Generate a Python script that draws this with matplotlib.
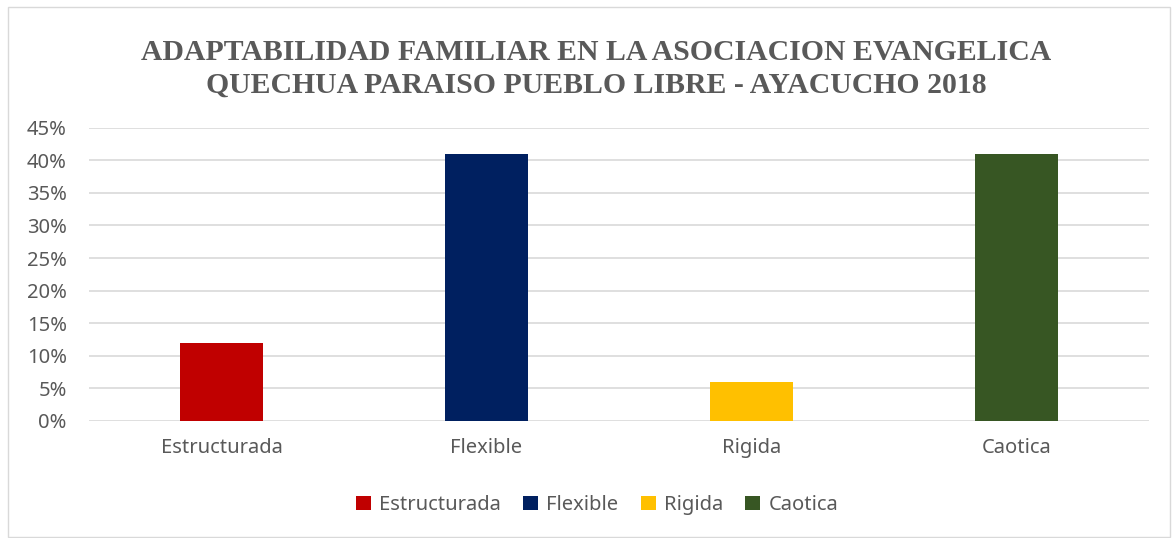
import matplotlib.pyplot as plt
from matplotlib.patches import Rectangle
from matplotlib.ticker import PercentFormatter

# Data
categories = ['Estructurada', 'Flexible', 'Rigida', 'Caotica']
values = [0.12, 0.41, 0.06, 0.41]
colors = ['#c00000', '#002060', '#ffc000', '#375623']
title = 'ADAPTABILIDAD FAMILIAR EN LA ASOCIACION EVANGELICA\nQUECHUA PARAISO PUEBLO LIBRE - AYACUCHO 2018'

text_color = '#595959'
grid_color = '#d9d9d9'

fig = plt.figure(figsize=(11.72, 5.38), dpi=100)
# chart border
fig.patches.append(Rectangle((8 / 1172, 1 - 537 / 538), 1162 / 1172, 530 / 538,
                             transform=fig.transFigure, fill=False,
                             edgecolor=grid_color, linewidth=1))

ax = fig.add_axes([89 / 1172, 1 - 421 / 538, 1060 / 1172, (421 - 127.6) / 538])

x = range(len(categories))
bars = ax.bar(x, values, width=0.313, color=colors, label=categories, zorder=3)

ax.set_xlim(-0.5, len(categories) - 0.5)
ax.set_ylim(0, 0.45)
ax.set_yticks([i * 0.05 for i in range(10)])
ax.yaxis.set_major_formatter(PercentFormatter(1.0, decimals=0))
ax.set_xticks(list(x))
ax.set_xticklabels(categories)
ax.grid(axis='y', color=grid_color, linewidth=1.2, zorder=0)
for s in ax.spines.values():
    s.set_visible(False)
ax.tick_params(axis='both', length=0, labelsize=14.5, labelcolor=text_color)
ax.tick_params(axis='x', pad=12)
ax.tick_params(axis='y', pad=16)
for lab in ax.get_xticklabels() + ax.get_yticklabels():
    lab.set_family('Noto Sans')

fig.text(0.509, 1 - 69 / 538, title, ha='center', va='center',
         family='Liberation Serif', fontweight='bold', fontsize=21.4,
         color=text_color, linespacing=1.25)

leg = fig.legend(bars, categories, loc='center', bbox_to_anchor=(597 / 1172, 1 - 505 / 538),
                 ncol=4, frameon=False, handlelength=0.75, handleheight=0.75,
                 handletextpad=0.4, columnspacing=1.1,
                 prop={'family': 'Noto Sans', 'size': 14.5})
for t in leg.get_texts():
    t.set_color(text_color)

fig.savefig('out.png', dpi=100)
